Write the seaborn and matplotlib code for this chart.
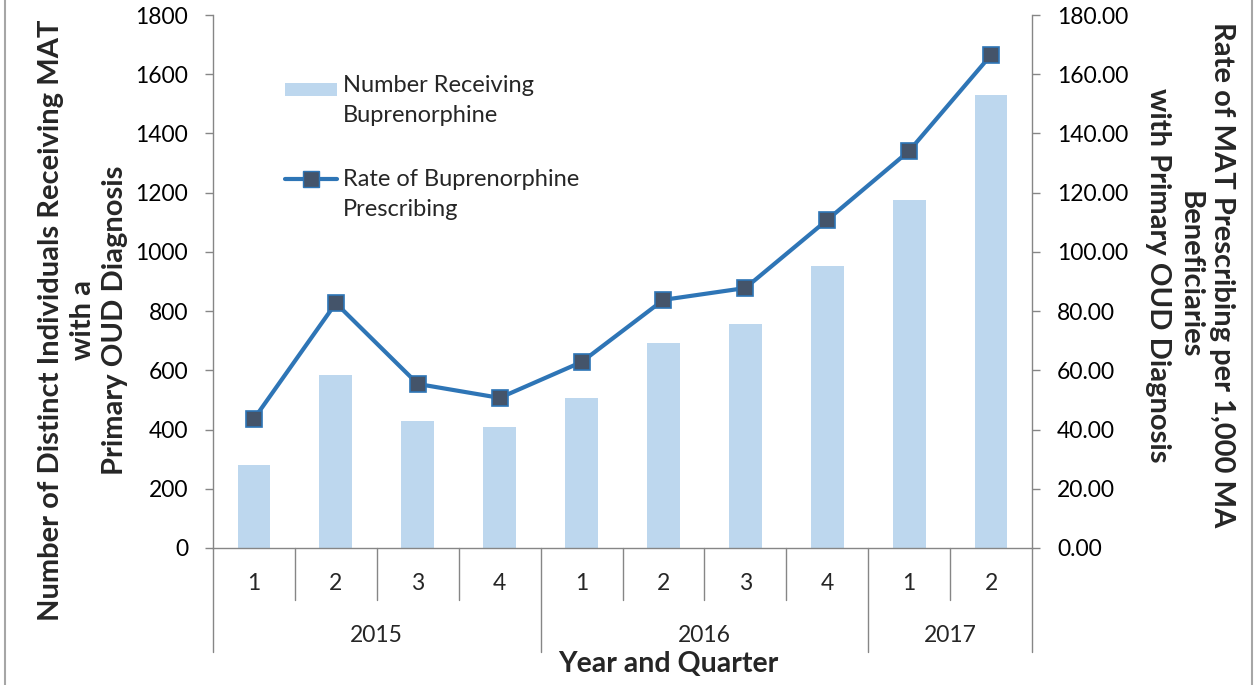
import matplotlib
matplotlib.use("Agg")
import matplotlib.pyplot as plt
import matplotlib.transforms as mtransforms
from matplotlib.lines import Line2D
from matplotlib.patches import Patch
from matplotlib.legend_handler import HandlerPatch, HandlerLine2D
import numpy as np
import pandas as pd
import seaborn as sns

# ---- data ----
quarters = ["1", "2", "3", "4", "1", "2", "3", "4", "1", "2"]
years = ["2015", "2016", "2017"]
year_spans = [4, 4, 2]
number_receiving = [280, 585, 428, 410, 508, 692, 755, 952, 1175, 1530]
rate_prescribing = [43.6, 82.7, 55.4, 50.7, 62.8, 83.8, 87.8, 110.8, 134.1, 166.5]

left_ticks = [0, 200, 400, 600, 800, 1000, 1200, 1400, 1600, 1800]
right_ticks = [0, 20, 40, 60, 80, 100, 120, 140, 160, 180]

bar_color = "#BDD7EE"
line_color = "#2E75B6"
marker_face = "#44546A"
spine_color = "#868686"

sns.set_theme(style="white")
plt.rcParams["font.family"] = ["Lato", "DejaVu Sans"]

df = pd.DataFrame({"pos": [str(i) for i in range(len(quarters))],
                   "idx": np.arange(len(quarters)),
                   "number": number_receiving,
                   "rate": rate_prescribing})

tick_fs = 16.5

fig = plt.figure(figsize=(12.54, 6.85), dpi=100)
ax = fig.add_axes([213/1254, 1-548/685, (1032-213)/1254, 533/685])

sns.barplot(data=df, x="pos", y="number", color=bar_color, width=0.4,
            saturation=1, ax=ax, edgecolor="none")
ax.set_xlim(-0.5, len(quarters) - 0.5)
ax.set_ylim(0, 1800)
ax.set_yticks(left_ticks)
ax.set_yticklabels([str(t) for t in left_ticks], fontsize=tick_fs)
ax.set_xticks([])
ax.set_xlabel("")
ax.set_ylabel("")

ax2 = ax.twinx()
sns.lineplot(data=df, x="idx", y="rate", ax=ax2, color=line_color, linewidth=3,
             marker="s", markersize=11, markerfacecolor=marker_face,
             markeredgecolor=line_color, markeredgewidth=1.2)
ax2.set_ylim(0, 180)
ax2.set_yticks(right_ticks)
ax2.set_yticklabels([f"{t:.2f}" for t in right_ticks], fontsize=tick_fs)
ax2.set_ylabel("")
ax2.set_xlabel("")
ax2.set_xlim(-0.5, len(quarters) - 0.5)

for a in (ax, ax2):
    a.spines["top"].set_visible(False)
    for s in ["left", "right", "bottom"]:
        a.spines[s].set_color(spine_color)
        a.spines[s].set_linewidth(1)
ax.spines["right"].set_visible(False)
ax2.spines["left"].set_visible(False)
ax2.spines["bottom"].set_visible(False)
ax.tick_params(axis="y", left=True, length=6, width=1, color=spine_color,
               direction="out", pad=12, labelcolor="black")
ax2.tick_params(axis="y", right=True, length=6, width=1, color=spine_color,
                direction="out", pad=12, labelcolor="black")

# ---- multi-level category axis ----
trans = mtransforms.blended_transform_factory(ax.transData, ax.transAxes)
q_bottom = -52/533
y_bottom = -104/533
n = len(quarters)
year_edges = np.cumsum([0] + year_spans) - 0.5
for k in range(1, n):
    xb = k - 0.5
    if xb in year_edges:
        continue
    ax.add_line(Line2D([xb, xb], [0, q_bottom], transform=trans, color=spine_color,
                       lw=1, clip_on=False))
for xb in year_edges:
    ax.add_line(Line2D([xb, xb], [0, y_bottom], transform=trans, color=spine_color,
                       lw=1, clip_on=False))
for i, q in enumerate(quarters):
    ax.text(i, -35/533, q, transform=trans, ha="center", va="center", fontsize=tick_fs)
for j, yr in enumerate(years):
    center = (year_edges[j] + year_edges[j + 1]) / 2
    ax.text(center, -87/533, yr, transform=trans, ha="center", va="center", fontsize=tick_fs)
fig.text(668/1254, 1-664/685, "Year and Quarter", ha="center",
         va="center", fontsize=20.5, fontweight="bold")

# ---- axis titles ----
fig.text(83/1254, 1-320/685,
         "Number of Distinct Individuals Receiving MAT\nwith a\nPrimary OUD Diagnosis",
         rotation=90, ha="center", va="center", fontsize=21, fontweight="bold",
         linespacing=1.3)
fig.text(1190/1254, 1-275/685,
         "Rate of MAT Prescribing per 1,000 MA\nBeneficiaries\nwith Primary OUD Diagnosis",
         rotation=270, ha="center", va="center", fontsize=21, fontweight="bold",
         linespacing=1.3)

# ---- legend (handles aligned with first text line) ----
SHIFT = 11.0  # points


class ShiftedPatch(HandlerPatch):
    def create_artists(self, legend, orig_handle, xdescent, ydescent, width,
                       height, fontsize, trans):
        return super().create_artists(legend, orig_handle, xdescent, ydescent - SHIFT + 1.5,
                                      width, height - 2.5, fontsize, trans)


class ShiftedLine(HandlerLine2D):
    def create_artists(self, legend, orig_handle, xdescent, ydescent, width,
                       height, fontsize, trans):
        return super().create_artists(legend, orig_handle, xdescent, ydescent - 2 * SHIFT,
                                      width, height, fontsize, trans)


bar_handle = Patch(facecolor=bar_color, edgecolor="none")
line_handle = Line2D([0], [0], color=line_color, lw=3, marker="s", markersize=11,
                     markerfacecolor=marker_face, markeredgecolor=line_color)
labels = ["Number Receiving\nBuprenorphine", "Rate of Buprenorphine\nPrescribing"]
leg = fig.legend([bar_handle, line_handle], labels, loc="upper left",
                 bbox_to_anchor=(285/1254, 1-75/685),
                 frameon=False, fontsize=17, handlelength=2.2, handletextpad=0.25,
                 labelspacing=1.8, borderaxespad=0, borderpad=0,
                 handler_map={Patch: ShiftedPatch(), Line2D: ShiftedLine()})
for t in leg.get_texts():
    t.set_linespacing(1.55)

# ---- chart border ----
fig.add_artist(Line2D([5/1254, 5/1254], [0, 1], transform=fig.transFigure,
                      color="#A6A6A6", lw=1.5))
fig.add_artist(Line2D([1252/1254, 1252/1254], [0, 1], transform=fig.transFigure,
                      color="#A6A6A6", lw=1.5))

fig.savefig("out.png", dpi=100)
